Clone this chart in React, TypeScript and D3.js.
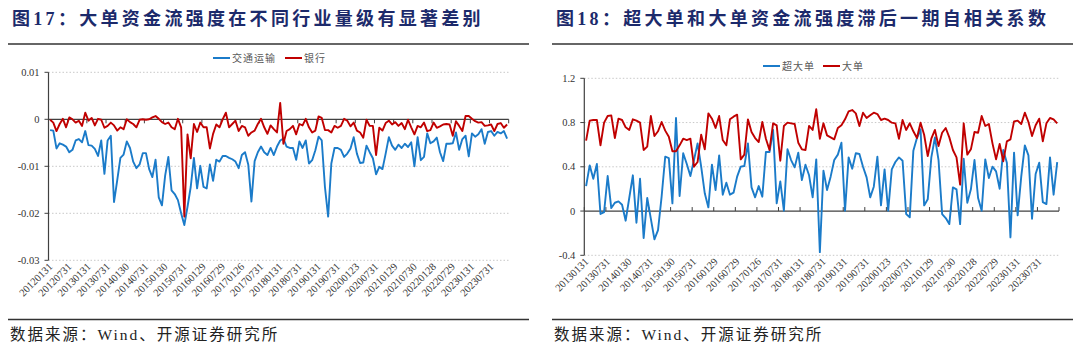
import React from 'react'
import * as d3 from 'd3'

// 图17 data (monthly, 2012-01 .. 2023-12)
const leftLabels = [
  '20120131', '20120731', '20130131', '20130731', '20140130', '20140731', '20150130', '20150731',
  '20160129', '20160729', '20170126', '20170731', '20180131', '20180731', '20190131', '20190731',
  '20200123', '20200731', '20210129', '20210730', '20220128', '20220729', '20230131', '20230731',
]
const transport = [
  -0.0023, -0.0024, -0.0062, -0.0051, -0.0054, -0.0058, -0.007, -0.0065, -0.0045, -0.0042,
  -0.0049, -0.0025, -0.0055, -0.0056, -0.0063, -0.0078, -0.0045, -0.0116, -0.0045, -0.0035,
  -0.0176, -0.013, -0.0082, -0.0075, -0.0047, -0.0061, -0.009, -0.0104, -0.0096, -0.0072,
  -0.0072, -0.0106, -0.0123, -0.0086, -0.0166, -0.0183, -0.012, -0.008, -0.0151, -0.0159,
  -0.0172, -0.02, -0.0225, -0.0186, -0.0144, -0.0082, -0.0147, -0.0099, -0.0144, -0.0147,
  -0.0096, -0.0131, -0.0086, -0.009, -0.0078, -0.0078, -0.0082, -0.0085, -0.009, -0.0104,
  -0.0076, -0.007, -0.0096, -0.0175, -0.0089, -0.007, -0.0058, -0.007, -0.0076, -0.0061,
  -0.0076, -0.0058, -0.0045, -0.0041, -0.0058, -0.0061, -0.0061, -0.0086, -0.0047, -0.0061,
  -0.0045, -0.0094, -0.0087, -0.0066, -0.0037, -0.0045, -0.0144, -0.0207, -0.0094, -0.0061,
  -0.0061, -0.0065, -0.008, -0.0073, -0.0062, -0.0038, -0.0073, -0.0093, -0.0092, -0.0056,
  -0.007, -0.0083, -0.0117, -0.0101, -0.0106, -0.0073, -0.0038, -0.0056, -0.0065, -0.0054,
  -0.0061, -0.0052, -0.0059, -0.0049, -0.01, -0.0038, -0.0087, -0.008, -0.003, -0.0051,
  -0.0047, -0.0039, -0.007, -0.0089, -0.0052, -0.0052, -0.0051, -0.0028, -0.0065, -0.0042,
  -0.0035, -0.0079, -0.003, -0.0037, -0.0032, -0.0021, -0.0052, -0.0027, -0.0025, -0.0035,
  -0.0027, -0.003, -0.0025, -0.0041,
]
const bank = [
  -0.0001, -0.0007, -0.0025, -0.001, 0.0001, -0.0017, 0.0004, 0.0, -0.0007, -0.0003,
  -0.0014, 0.0014, -0.0003, 0.0003, -0.0013, 0.0001, -0.0001, -0.0018, -0.0014, -0.0007,
  -0.0013, -0.0024, -0.0017, -0.0021, 0.0, -0.0006, -0.001, -0.0017, -0.0001, 0.0,
  -0.0001, 0.0, 0.0004, 0.0007, 0.0001, -0.0006, -0.001, -0.0007, -0.0017, -0.0021,
  0.0001, -0.0017, -0.0207, -0.0032, -0.0083, -0.001, -0.0027, -0.0007, -0.0017, -0.0017,
  -0.0062, -0.0031, -0.0011, -0.0017, 0.0, 0.0014, -0.0017, -0.001, -0.0003, -0.0025,
  -0.0014, -0.0017, -0.0035, -0.0028, -0.0024, -0.001, 0.0001, -0.0017, -0.0031, -0.0013,
  -0.0021, -0.0028, 0.0035, -0.0052, -0.0025, -0.0021, -0.0014, -0.0032, -0.001, -0.0013,
  0.0001, -0.0017, -0.0028, -0.0024, 0.0006, 0.0003, -0.0023, -0.0023, -0.0028, -0.0014,
  -0.0018, -0.0014, 0.0001, -0.0003, -0.0015, -0.0007, -0.0024, -0.0028, -0.0039, -0.0001,
  -0.0014, -0.0014, -0.0076, -0.0018, -0.0024, -0.0008, -0.0003, -0.0011, -0.0006, -0.0014,
  -0.0008, -0.0021, -0.0001, -0.0017, -0.0032, -0.0014, -0.0017, -0.0007, -0.0025, -0.0023,
  -0.0007, -0.0018, -0.0015, -0.0011, -0.001, -0.0011, -0.0035, -0.0004, -0.0014, -0.0025,
  0.0007, 0.0007, 0.0001, -0.0004, -0.0007, -0.0006, -0.0014, -0.0013, -0.0011, -0.0025,
  -0.001, -0.0008, -0.0018, -0.0011,
]
const leftYTicks = [0.01, 0, -0.01, -0.02, -0.03]

// 图18 data (monthly, 2013-01 .. 2023-12)
const rightLabels = [
  '20130131', '20130731', '20140130', '20140731', '20150130', '20150731', '20160129', '20160729',
  '20170126', '20170731', '20180131', '20180731', '20190131', '20190731', '20200123', '20200731',
  '20210129', '20210730', '20220128', '20220729', '20230131', '20230731',
]
const superLarge = [
  0.226, 0.413, 0.292, 0.425, -0.027, -0.009, 0.317, 0.027, 0.075, 0.087,
  0.057, -0.087, 0.118, 0.323, -0.106, 0.292, -0.244, 0.118, -0.069, -0.256,
  -0.172, 0.13, 0.491, 0.479, 0.069, 0.841, 0.136, 0.522, 0.425, 0.317,
  0.461, 0.612, 0.401, 0.16, 0.033, 0.419, 0.19, 0.503, 0.148, 0.256,
  0.148, 0.166, 0.311, 0.401, 0.407, 0.612, 0.214, 0.124, 0.226, 0.13,
  0.534, 0.534, 0.733, 0.069, 0.268, 0.003, 0.558, 0.461, 0.395, 0.528,
  0.28, 0.419, 0.323, 0.124, 0.467, -0.371, 0.365, 0.19, 0.311, 0.461,
  0.51, 0.618, 0.003, 0.485, 0.383, 0.522, 0.516, 0.401, 0.304, 0.124,
  0.22, 0.491, 0.051, 0.377, 0.003, 0.377, 0.443, 0.485, 0.455, -0.027,
  -0.057, 0.546, 0.66, 0.739, 0.051, 0.106, 0.485, 0.666, 0.461, -0.027,
  -0.063, -0.118, 0.214, 0.196, -0.118, 0.473, 0.075, 0.196, 0.461, 0.118,
  0.003, 0.467, 0.298, 0.401, 0.359, 0.202, 0.552, 0.437, -0.238, 0.528,
  -0.039, 0.311, 0.594, 0.503, -0.069, 0.335, 0.437, 0.081, 0.063, 0.485,
  0.148, 0.443,
]
const large = [
  0.636, 0.817, 0.823, 0.823, 0.594, 0.799, 0.859, 0.865, 0.66, 0.835,
  0.823, 0.757, 0.733, 0.829, 0.817, 0.799, 0.552, 0.582, 0.859, 0.678,
  0.721, 0.805, 0.727, 0.672, 0.54, 0.54, 0.594, 0.654, 0.642, 0.654,
  0.401, 0.443, 0.69, 0.558, 0.883, 0.835, 0.751, 0.859, 0.642, 0.594,
  0.829, 0.853, 0.871, 0.467, 0.51, 0.829, 0.715, 0.66, 0.624, 0.805,
  0.654, 0.552, 0.793, 0.775, 0.455, 0.769, 0.799, 0.793, 0.787, 0.618,
  0.558, 0.552, 0.769, 0.733, 0.92, 0.654, 0.793, 0.684, 0.666, 0.648,
  0.751, 0.775, 0.829, 0.901, 0.913, 0.883, 0.769, 0.889, 0.841, 0.865,
  0.889, 0.877, 0.823, 0.835, 0.823, 0.799, 0.793, 0.654, 0.823, 0.733,
  0.793, 0.721, 0.66, 0.799, 0.69, 0.497, 0.654, 0.733, 0.588, 0.708,
  0.751, 0.666, 0.552, 0.485, 0.238, 0.793, 0.51, 0.558, 0.715, 0.708,
  0.859, 0.769, 0.787, 0.612, 0.467, 0.606, 0.449, 0.63, 0.648, 0.811,
  0.817, 0.787, 0.889, 0.805, 0.678, 0.775, 0.835, 0.63, 0.793, 0.841,
  0.829, 0.793,
]
const rightYTicks = [1.2, 0.8, 0.4, 0, -0.4]

const BLUE = '#1b7bc9'
const RED = '#c00000'
const AXIS = '#404040'
const CJK = '"Liberation Serif", "Noto Sans CJK SC", serif'

type Series = { name: string; color: string; values: number[]; legendX: number }

function LineChart(props: {
  left: number
  right: number
  top: number
  bottom: number
  yDomain: [number, number]
  yTicks: number[]
  labels: string[]
  series: Series[]
  legendY: number
  tickDir: number
}) {
  const { left, right, top, bottom, yDomain, yTicks, labels, series, legendY, tickDir } = props
  const n = series[0].values.length
  const x = d3.scaleBand<number>().domain(d3.range(n)).range([left, right])
  const bw = x.bandwidth()
  const y = d3.scaleLinear().domain(yDomain).range([bottom, top])
  const y0 = y(0)
  const line = d3
    .line<number>()
    .x((_, i) => (x(i) as number) + bw / 2)
    .y((d) => y(d))
  const tickXs = d3.range(0, n + 1, 6).map((i) => (i < n ? (x(i) as number) : right))

  return (
    <g>
      {yTicks
        .filter((t) => t !== 0)
        .map((t) => (
          <line key={t} x1={left} x2={right} y1={y(t)} y2={y(t)} stroke="#c8c8c8" strokeWidth={1} strokeDasharray="1.5,2" />
        ))}
      <line x1={left} x2={left} y1={top} y2={bottom} stroke={AXIS} strokeWidth={1.2} />
      {yTicks.map((t) => (
        <g key={'yt' + t}>
          <line x1={left - 4} x2={left} y1={y(t)} y2={y(t)} stroke={AXIS} strokeWidth={1} />
          <text x={left - 9} y={y(t)} dy="0.35em" textAnchor="end" fontSize={10.5} fontFamily="Liberation Serif" fill="#333">
            {String(t)}
          </text>
        </g>
      ))}
      <line x1={left} x2={right} y1={y0} y2={y0} stroke={AXIS} strokeWidth={1.2} />
      {tickXs.map((tx, i) => (
        <line key={'xt' + i} x1={tx} x2={tx} y1={y0} y2={y0 + tickDir * 4} stroke={AXIS} strokeWidth={1} />
      ))}
      {labels.map((lab, i) => {
        const cx = (x(i * 6) as number) + bw / 2 + 3
        const cy = bottom + 7
        return (
          <text key={lab} x={cx} y={cy} transform={`rotate(-45 ${cx} ${cy})`} textAnchor="end" fontSize={10.5} fontFamily="Liberation Serif" fill="#333">
            {lab}
          </text>
        )
      })}
      {series.map((s) => (
        <path key={s.name} d={line(s.values) ?? ''} fill="none" stroke={s.color} strokeWidth={1.9} strokeLinejoin="round" />
      ))}
      {series.map((s) => (
        <g key={'lg' + s.name}>
          <line x1={s.legendX} x2={s.legendX + 17} y1={legendY} y2={legendY} stroke={s.color} strokeWidth={2} />
          <text x={s.legendX + 19} y={legendY} dy="0.35em" fontSize={10} letterSpacing={1} fontFamily="Noto Sans CJK SC" fill="#595959">
            {s.name}
          </text>
        </g>
      ))}
    </g>
  )
}

function Header(props: { x: number; x2: number; title: string }) {
  const { x, x2, title } = props
  return (
    <g>
      <text x={x + 4} y={25} fontSize={18} fontWeight="bold" letterSpacing={3.3} fontFamily={CJK} fill="#1c2a6b">
        {title}
      </text>
      <line x1={x} x2={x2} y1={44} y2={44} stroke="#333" strokeWidth={1.5} />
      <line x1={x} x2={x2} y1={319.5} y2={319.5} stroke="#333" strokeWidth={1.5} />
      <text x={x + 2} y={340} fontSize={15.5} letterSpacing={2} fontFamily={CJK} fill="#222">
        数据来源：Wind、开源证券研究所
      </text>
    </g>
  )
}

export default function App() {
  return (
    <svg width={1080} height={353} style={{ position: 'absolute', left: 0, top: 0, background: '#fff' }}>
      <rect width={1080} height={353} fill="#fff" />
      <Header x={8} x2={529} title="图17：大单资金流强度在不同行业量级有显著差别" />
      <Header x={552} x2={1073} title="图18：超大单和大单资金流强度滞后一期自相关系数" />
      <LineChart
        left={48.5}
        right={508.7}
        top={72.3}
        bottom={260.3}
        yDomain={[-0.03, 0.01]}
        yTicks={leftYTicks}
        labels={leftLabels}
        legendY={58}
        tickDir={1}
        series={[
          { name: '交通运输', color: BLUE, values: transport, legendX: 213 },
          { name: '银行', color: RED, values: bank, legendX: 285 },
        ]}
      />
      <LineChart
        left={584.3}
        right={1059}
        top={78.3}
        bottom={255.3}
        yDomain={[-0.4, 1.2]}
        yTicks={rightYTicks}
        labels={rightLabels}
        legendY={66}
        tickDir={-1}
        series={[
          { name: '超大单', color: BLUE, values: superLarge, legendX: 763 },
          { name: '大单', color: RED, values: large, legendX: 823 },
        ]}
      />
    </svg>
  )
}
